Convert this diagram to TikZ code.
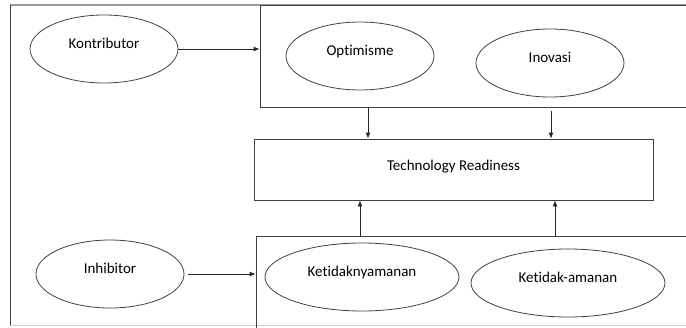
\documentclass[tikz,border=0pt]{standalone}
\usepackage{fontspec}
\setmainfont{Carlito}[Ligatures=NoCommon]
\usetikzlibrary{arrows.meta,shapes.geometric,positioning}
\tikzset{
  oval/.style={ellipse, draw=black!75, line width=0.8pt, minimum width=148pt, minimum height=68pt, inner sep=0pt, text depth=11.5pt, font=\fontsize{15}{17}\selectfont},
  wideoval/.style={oval, minimum width=194pt},
  frame/.style={rectangle, draw=black!75, line width=0.8pt, inner sep=0pt},
  arr/.style={-{Latex[length=6pt,width=5pt]}, draw=black!85, line width=0.8pt}
}

\begin{document}
\begin{tikzpicture}[x=1pt,y=-1pt]
\useasboundingbox (0,0) rectangle (686,327);
\clip (0,0) rectangle (686,327);
% outer frame
\draw[black!40, line width=1.2pt] (10,5) -- (700,5);
\draw[black!20, line width=1pt] (10,325) -- (700,325);
\draw[black!75, line width=0.8pt] (10,5) -- (10,325);
% boxes
\node[frame, minimum width=460pt, minimum height=102pt] (up) at (490,56) {};
\node[frame, minimum width=464pt, minimum height=104pt] (low) at (488,288) {};
\node[frame, minimum width=399pt, minimum height=61pt, text depth=9pt, font=\fontsize{15}{17}\selectfont] (tr) at (453.5,169.5) {Technology Readiness};
% ellipses
\node[oval] (kon) at (104,49) {Kontributor};
\node[oval] (opt) at (360,56) {Optimisme};
\node[oval] (ino) at (550,63) {Inovasi};
\node[oval] (inh) at (110,274) {Inhibitor};
\node[wideoval] (ketn) at (362,277) {Ketidaknyamanan};
\node[wideoval] (keta) at (568,283) {Ketidak-amanan};
% arrows
\draw[arr] (kon.east) -- (kon.east -| up.west);
\draw[arr, shorten <=4pt] (inh.east) -- (inh.east -| low.west);
\draw[arr] (368,0 |- up.south) -- (368,0 |- tr.north);
\draw[arr, shorten <=4pt] (551,0 |- up.south) -- (551,0 |- tr.north);
\draw[arr] (360,0 |- low.north) -- (360,0 |- tr.south);
\draw[arr] (555,0 |- low.north) -- (555,0 |- tr.south);
\end{tikzpicture}
\end{document}
